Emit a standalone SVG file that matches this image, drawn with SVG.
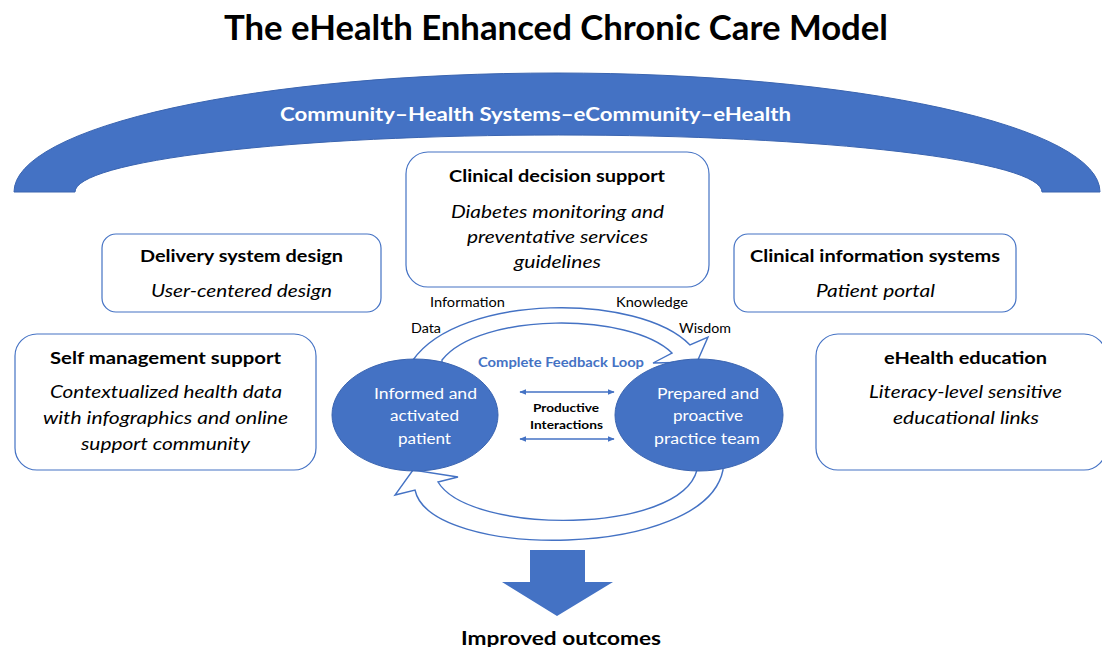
<svg xmlns="http://www.w3.org/2000/svg" width="1102" height="647" viewBox="0 0 1102 647">
<defs>
<style>
.t{font-family:Lato,"Open Sans","Liberation Sans",sans-serif;fill:#000;text-anchor:middle}
.b{font-weight:bold}
.i{font-style:italic}
.box{fill:#fff;stroke:#4472C4;stroke-width:1.2}
.ell{fill:#4472C4;stroke:#3A64B0;stroke-width:1}
.w{fill:#fff}
.loop{fill:#fff;stroke:#4472C4;stroke-width:1.4;stroke-linejoin:miter}
.dbl{stroke:#4472C4;stroke-width:1.5;fill:none;marker-start:url(#ah);marker-end:url(#ah)}
</style>
<marker id="ah" viewBox="0 0 10 10" refX="9" refY="5" markerWidth="7" markerHeight="7" orient="auto-start-reverse" markerUnits="userSpaceOnUse">
<path d="M0,1 L10,5 L0,9 Z" fill="#4472C4"/>
</marker>
</defs>
<rect width="1102" height="647" fill="#fff"/>

<g id="title">
<text class="t b" x="556" y="40" font-size="34" textLength="664" lengthAdjust="spacingAndGlyphs">The eHealth Enhanced Chronic Care Model</text>
</g>

<g id="community-arc">
<path d="M14,192 A543,119 0 0 1 1100,192 L1042,192 A483.5,57 0 0 0 75,192 Z" fill="#4472C4" stroke="#3A64B0" stroke-width="1"/>
<text class="t b w" x="535.5" y="121" font-size="18.5" textLength="511" lengthAdjust="spacingAndGlyphs">Community–Health Systems–eCommunity–eHealth</text>
</g>

<g id="connectors">
<path class="loop" d="M413,366 L413,360 C460,293 640,293 690,345 L708,337 L697,362 L653,363 L672,353 C630,312 480,312 442,360 L442,367 Z"/>
<path class="loop" d="M723,462 L723,470 C705,560 430,560 415,490 L395,495 L413,470 L458,477 L438,482 C470,535 680,535 697,470 L697,462 Z"/>
<line class="dbl" x1="520" y1="392" x2="614" y2="392"/>
<line class="dbl" x1="520" y1="439" x2="614" y2="439"/>
<path d="M530,550 L585,550 L585,582 L613,582 L557,616 L502,582 L530,582 Z" fill="#4472C4"/>
</g>

<g id="loop-labels">
<text class="t" x="467.5" y="307" font-size="12.5" textLength="75" lengthAdjust="spacingAndGlyphs">Information</text>
<text class="t" x="652" y="307" font-size="12.5" textLength="72" lengthAdjust="spacingAndGlyphs">Knowledge</text>
<text class="t" x="426" y="333" font-size="12.5" textLength="30" lengthAdjust="spacingAndGlyphs">Data</text>
<text class="t" x="705" y="333" font-size="12.5" textLength="52" lengthAdjust="spacingAndGlyphs">Wisdom</text>
<text class="t b" x="561" y="367" font-size="13" fill="#4472C4" style="fill:#4472C4" textLength="166" lengthAdjust="spacingAndGlyphs">Complete Feedback Loop</text>
<text class="t b" x="566" y="412" font-size="11" textLength="66" lengthAdjust="spacingAndGlyphs">Productive</text>
<text class="t b" x="566.5" y="429" font-size="11" textLength="73" lengthAdjust="spacingAndGlyphs">Interactions</text>
</g>

<g id="patient">
<ellipse class="ell" cx="415" cy="415" rx="83" ry="56"/>
<text class="t w" x="425.5" y="399" font-size="15.5" textLength="103" lengthAdjust="spacingAndGlyphs">Informed and</text>
<text class="t w" x="424.5" y="421" font-size="15.5" textLength="69" lengthAdjust="spacingAndGlyphs">activated</text>
<text class="t w" x="424.5" y="444" font-size="15.5" textLength="53" lengthAdjust="spacingAndGlyphs">patient</text>
</g>

<g id="team">
<ellipse class="ell" cx="699" cy="415" rx="84" ry="56"/>
<text class="t w" x="708" y="399" font-size="15.5" textLength="102" lengthAdjust="spacingAndGlyphs">Prepared and</text>
<text class="t w" x="708" y="421" font-size="15.5" textLength="70" lengthAdjust="spacingAndGlyphs">proactive</text>
<text class="t w" x="707" y="444" font-size="15.5" textLength="106" lengthAdjust="spacingAndGlyphs">practice team</text>
</g>

<g id="clinical-decision-support">
<rect class="box" x="406" y="152" width="303" height="135" rx="22"/>
<text class="t b" x="557" y="182" font-size="17" textLength="216" lengthAdjust="spacingAndGlyphs">Clinical decision support</text>
<text class="t i" x="557.5" y="218" font-size="17.5" textLength="213" lengthAdjust="spacingAndGlyphs">Diabetes monitoring and</text>
<text class="t i" x="557.5" y="243" font-size="17.5" textLength="181" lengthAdjust="spacingAndGlyphs">preventative services</text>
<text class="t i" x="557.5" y="268" font-size="17.5" textLength="87" lengthAdjust="spacingAndGlyphs">guidelines</text>
</g>

<g id="delivery-system-design">
<rect class="box" x="102" y="234" width="279" height="78" rx="14"/>
<text class="t b" x="241.5" y="262" font-size="17" textLength="203" lengthAdjust="spacingAndGlyphs">Delivery system design</text>
<text class="t i" x="241.5" y="297" font-size="17.5" textLength="181" lengthAdjust="spacingAndGlyphs">User-centered design</text>
</g>

<g id="clinical-information-systems">
<rect class="box" x="734" y="234" width="282" height="78" rx="14"/>
<text class="t b" x="875" y="262" font-size="17" textLength="250" lengthAdjust="spacingAndGlyphs">Clinical information systems</text>
<text class="t i" x="875.5" y="297" font-size="17.5" textLength="119" lengthAdjust="spacingAndGlyphs">Patient portal</text>
</g>

<g id="self-management-support">
<rect class="box" x="15" y="334" width="301" height="136" rx="22"/>
<text class="t b" x="165.5" y="364" font-size="17" textLength="231" lengthAdjust="spacingAndGlyphs">Self management support</text>
<text class="t i" x="166" y="398" font-size="17.5" textLength="232" lengthAdjust="spacingAndGlyphs">Contextualized health data</text>
<text class="t i" x="165.5" y="424" font-size="17.5" textLength="245" lengthAdjust="spacingAndGlyphs">with infographics and online</text>
<text class="t i" x="165.5" y="450" font-size="17.5" textLength="169" lengthAdjust="spacingAndGlyphs">support community</text>
</g>

<g id="ehealth-education">
<rect class="box" x="816" y="334" width="290" height="136" rx="22"/>
<text class="t b" x="965.5" y="364" font-size="17" textLength="163" lengthAdjust="spacingAndGlyphs">eHealth education</text>
<text class="t i" x="965.5" y="398" font-size="17.5" textLength="193" lengthAdjust="spacingAndGlyphs">Literacy-level sensitive</text>
<text class="t i" x="966" y="424" font-size="17.5" textLength="146" lengthAdjust="spacingAndGlyphs">educational links</text>
</g>

<g id="improved-outcomes">
<text class="t b" x="561" y="645" font-size="19.5" textLength="200" lengthAdjust="spacingAndGlyphs">Improved outcomes</text>
</g>
</svg>
